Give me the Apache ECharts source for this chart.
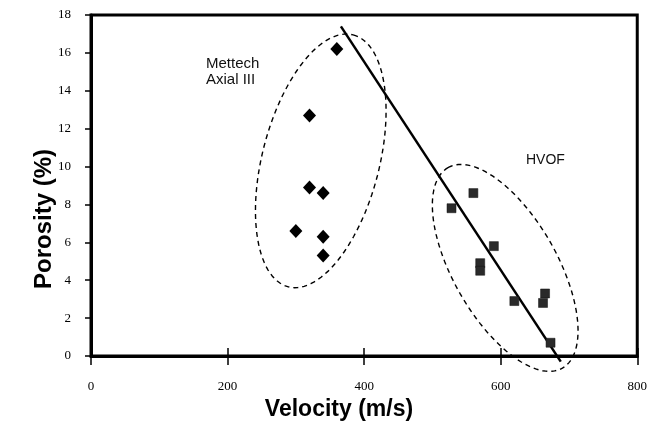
<!DOCTYPE html>
<html>
<head>
<meta charset="utf-8">
<script src="https://cdn.jsdelivr.net/npm/echarts@6/dist/echarts.min.js"></script>
<style>html,body{margin:0;padding:0;background:#fff}#c{width:650px;height:430px}</style>
</head>
<body>
<div id="c"></div>
<script>
// ---- data ----
const velocityMettech = [360, 320, 320, 340, 300, 340, 340];
const porosityMettech = [16.2, 12.7, 8.9, 8.6, 6.6, 6.3, 5.3];
const velocityHVOF = [560, 528, 590, 570, 570, 620, 665, 662, 673];
const porosityHVOF = [8.6, 7.8, 5.8, 4.9, 4.5, 2.9, 3.3, 2.8, 0.7];
const trendVelocity = [366, 688];
const trendPorosity = [17.4, -0.3];
// ellipse outlines: centre (v, p), major-axis tip (v, p), minor/major ratio
const ellipseCentre = [[336.5, 10.3], [606.6, 4.65]];
const ellipseTip = [[384.0, 16.95], [522.8, 9.94]];
const ellipseRatio = [0.45, 0.45];
const groupLabels = ['Mettech\nAxial III', 'HVOF'];
const xTitle = 'Velocity (m/s)';
const yTitle = 'Porosity (%)';

const zip = (a, b) => a.map((v, i) => [v, b[i]]);

const chart = echarts.init(document.getElementById('c'), null, {renderer: 'canvas'});
const serif = '"Liberation Serif", "Times New Roman", serif';
const sans = '"Liberation Sans", Arial, sans-serif';

chart.setOption({
  animation: false,
  backgroundColor: '#fff',
  grid: {left: 91, right: 4, top: 15, bottom: 74, show: true, borderColor: '#000', borderWidth: 3},
  xAxis: [{
    type: 'value', min: 0, max: 800, interval: 200,
    axisLine: {show: true, lineStyle: {color: '#000', width: 3}},
    axisTick: {show: true, inside: false, length: 9, lineStyle: {color: '#000', width: 1.5}},
    axisLabel: {color: '#000', fontFamily: serif, fontSize: 13, margin: 24},
    splitLine: {show: false}
  }, {
    type: 'value', min: 0, max: 800, interval: 200, position: 'bottom', gridIndex: 0,
    axisLine: {show: false},
    axisTick: {show: true, inside: true, length: 8, lineStyle: {color: '#000', width: 1.5}},
    axisLabel: {show: false},
    splitLine: {show: false}
  }],
  yAxis: [{
    type: 'value', min: 0, max: 18, interval: 2,
    axisLine: {show: true, lineStyle: {color: '#000', width: 3}},
    axisTick: {show: true, inside: false, length: 6, lineStyle: {color: '#000', width: 1.5}},
    axisLabel: {color: '#000', fontFamily: serif, fontSize: 13, margin: 20},
    splitLine: {show: false}
  }],
  series: [{
    type: 'custom',
    name: 'outlines',
    clip: false,
    silent: true,
    z: 1,
    dimensions: ['cv', 'cp', 'tv', 'tp', 'r'],
    encode: {x: [0, 2], y: [1, 3]},
    data: ellipseCentre.map((c, i) => [c[0], c[1], ellipseTip[i][0], ellipseTip[i][1], ellipseRatio[i]]),
    renderItem: function (params, api) {
      const c = api.coord([api.value(0), api.value(1)]);
      const t = api.coord([api.value(2), api.value(3)]);
      const dx = t[0] - c[0], dy = t[1] - c[1];
      const a = Math.hypot(dx, dy);
      const b = a * api.value(4);
      const ux = dx / a, uy = dy / a;
      const pts = [];
      const N = 120;
      for (let k = 0; k <= N; k++) {
        const th = 2 * Math.PI * k / N;
        const lx = a * Math.cos(th), ly = b * Math.sin(th);
        pts.push([c[0] + lx * ux - ly * uy, c[1] + lx * uy + ly * ux]);
      }
      return {type: 'polyline', shape: {points: pts},
        style: {fill: null, stroke: '#000', lineWidth: 1.4, lineDash: [5, 4]}};
    }
  }, {
    type: 'line',
    name: 'trend',
    data: zip(trendVelocity, trendPorosity),
    clip: false,
    showSymbol: false,
    symbol: 'none',
    lineStyle: {color: '#000', width: 2.5},
    z: 2
  }, {
    type: 'scatter',
    name: 'Mettech Axial III',
    data: zip(velocityMettech, porosityMettech),
    symbol: 'diamond',
    symbolSize: [13, 14],
    itemStyle: {color: '#000', opacity: 1},
    z: 3
  }, {
    type: 'scatter',
    name: 'HVOF',
    data: zip(velocityHVOF, porosityHVOF),
    symbol: 'rect',
    symbolSize: 9,
    itemStyle: {color: '#2a2a2a', borderColor: '#111', borderWidth: 0.5, opacity: 1},
    z: 3
  }],
  graphic: [
    {type: 'text', left: 206, top: 56, style: {text: groupLabels[0], font: '15px ' + sans, fill: '#111', lineHeight: 16}},
    {type: 'text', left: 526, top: 153, style: {text: groupLabels[1], font: '14px ' + sans, fill: '#111'}},
    {type: 'text', x: 339, y: 410, style: {text: xTitle, font: 'bold 23px ' + sans, fill: '#000', textAlign: 'center', textVerticalAlign: 'middle'}},
    {type: 'text', x: 44, y: 219, rotation: Math.PI / 2, style: {text: yTitle, font: 'bold 24px ' + sans, fill: '#000', textAlign: 'center', textVerticalAlign: 'middle'}}
  ]
});
</script>
</body>
</html>
